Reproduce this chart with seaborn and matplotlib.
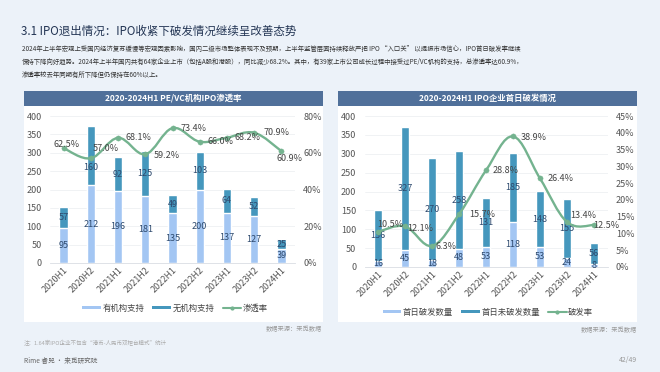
import numpy as np
import pandas as pd
import matplotlib
matplotlib.use('Agg')
import matplotlib.pyplot as plt
import seaborn as sns
from matplotlib.patches import Rectangle, PathPatch, Patch
from matplotlib.path import Path
from matplotlib.lines import Line2D

# ---------------- data ----------------
periods = ['2020H1', '2020H2', '2021H1', '2021H2', '2022H1',
           '2022H2', '2023H1', '2023H2', '2024H1']
backed = [95, 212, 196, 181, 135, 200, 137, 127, 39]          # 有机构支持
unbacked = [57, 160, 92, 125, 49, 103, 64, 52, 25]            # 无机构支持
penetration = [62.5, 57.0, 68.1, 59.2, 73.4, 66.0, 68.2, 70.9, 60.9]  # 渗透率 %
broken = [16, 45, 18, 48, 53, 118, 53, 24, 8]                  # 首日破发数量
unbroken = [136, 327, 270, 258, 131, 185, 148, 155, 56]        # 首日未破发数量
break_rate = [10.5, 12.1, 6.3, 15.7, 28.8, 38.9, 26.4, 13.4, 12.5]  # 破发率 %

left_yticks = list(range(0, 401, 50))
left_rticks = [0, 20, 40, 60, 80]
right_rticks = list(range(0, 46, 5))

# ---------------- style ----------------
LIGHT = '#a3c6f3'
DARK = '#4597bd'
GREEN = '#74b38f'
BAR_TXT = '#2e4a6e'
TICK = '#555555'
BAR_HDR = '#50709a'

sns.set_theme(style='white')
plt.rcParams['font.family'] = ['Noto Sans CJK SC', 'DejaVu Sans']

W, H = 660, 372
fig = plt.figure(figsize=(6.6, 3.72), dpi=100)
fig.patch.set_facecolor('#ecf2f9')


def fx(px):
    return px / W


def fy(py):
    return 1 - py / H


def axes_px(l, t, r, b):
    return fig.add_axes([l / W, 1 - b / H, (r - l) / W, (b - t) / H])


def smooth_path(xs, ys, t=0.18):
    pts = np.column_stack([xs, ys]).astype(float)
    n = len(pts)
    verts = [pts[0]]
    codes = [Path.MOVETO]
    for i in range(n - 1):
        p0 = pts[i - 1] if i > 0 else pts[i]
        p1 = pts[i]
        p2 = pts[i + 1]
        p3 = pts[i + 2] if i + 2 < n else pts[i + 1]
        verts += [p1 + (p2 - p0) * t, p2 - (p3 - p1) * t, p2]
        codes += [Path.CURVE4] * 3
    return Path(verts, codes)


# background panels
for (l, r) in [(24, 323), (338, 637)]:
    fig.patches.append(Rectangle((fx(l), fy(322)), (r - l) / W, (322 - 91) / H,
                                 transform=fig.transFigure, facecolor='white',
                                 edgecolor='none', zorder=-3))
    fig.patches.append(Rectangle((fx(l), fy(106)), (r - l) / W, 15 / H,
                                 transform=fig.transFigure, facecolor=BAR_HDR,
                                 edgecolor='none', zorder=-2))


def draw(ax, low, high, rate, rticks, rmax, rfmt, offsets, high_shift):
    x = np.arange(len(periods))
    total = [a + b for a, b in zip(low, high)]
    df = pd.DataFrame({'period': periods, 'low': low, 'high': high, 'total': total})
    sns.barplot(data=df, x='period', y='total', color=DARK, saturation=1,
                width=0.31, ax=ax, order=periods)
    sns.barplot(data=df, x='period', y='low', color=LIGHT, saturation=1,
                width=0.31, ax=ax, order=periods)
    ax.set_facecolor('none')
    ax.set_ylim(0, 400)
    ax.set_xlim(-0.5, len(periods) - 0.5)
    ax.set_yticks(left_yticks)
    ax.set_xlabel('')
    ax.set_ylabel('')
    ax.yaxis.grid(True, color='#eef0f3', lw=0.6)
    ax.set_axisbelow(True)
    for s in ['top', 'right', 'left']:
        ax.spines[s].set_visible(False)
    ax.spines['bottom'].set_color('#d9dde3')
    ax.spines['bottom'].set_linewidth(0.6)
    ax.tick_params(axis='y', labelsize=6.5, colors=TICK, length=0, pad=6)
    ax.tick_params(axis='x', labelsize=6.5, colors=TICK, length=0, pad=2)
    plt.setp(ax.get_xticklabels(), rotation=45, ha='right', rotation_mode='anchor')
    for i in range(len(periods)):
        ax.text(i, low[i] / 2, str(low[i]), ha='center', va='center',
                fontsize=6.5, color=BAR_TXT, zorder=5)
        ax.annotate(str(high[i]), (i, low[i] + high[i] / 2), xytext=(0, high_shift[i]),
                    textcoords='offset pixels', ha='center', va='center',
                    fontsize=6.5, color=BAR_TXT, zorder=5)

    ax2 = ax.twinx()
    ax2.set_ylim(0, rmax)
    ax2.set_yticks(rticks)
    ax2.set_yticklabels([rfmt.format(v) for v in rticks])
    ax2.tick_params(axis='y', labelsize=6.5, colors=TICK, length=0, pad=6)
    for s in ax2.spines.values():
        s.set_visible(False)
    ax2.grid(False)
    ax2.add_patch(PathPatch(smooth_path(x, rate), facecolor='none',
                            edgecolor=GREEN, lw=1.7, zorder=4))
    sns.scatterplot(x=x, y=rate, ax=ax2, color=GREEN, s=14,
                    edgecolor=GREEN, legend=False, zorder=5)
    ax2.set_xlim(-0.5, len(periods) - 0.5)
    for i, v in enumerate(rate):
        dx, dy, ha = offsets[i]
        ax2.annotate(f'{v:.1f}%', (i, v), xytext=(dx, dy), textcoords='offset pixels',
                     ha=ha, va='center', fontsize=6.5, color='#444444', zorder=6)
    return ax2


# left chart
axL = axes_px(50, 116, 295, 263)
left_offsets = [(3, 4, 'center'), (2, 10, 'left'), (7, 0, 'left'), (8, -1, 'left'),
                (8, 0, 'left'), (8, 0, 'left'), (8, 0, 'left'), (9, 0, 'left'),
                (-5, -7, 'left')]
left_shift = [0, -12, 0, 0, 0, 0, 0, 0, 0]
draw(axL, backed, unbacked, penetration, left_rticks, 80, '{}%', left_offsets, left_shift)

# right chart
axR = axes_px(364.5, 116, 607.5, 267)
right_offsets = [(-1, 7, 'left'), (2, -2, 'left'), (3, -1, 'left'), (10, 0, 'left'),
                 (7, 0, 'left'), (8, -1, 'left'), (8, 0, 'left'), (3, 7, 'left'),
                 (-1, 0, 'left')]
right_shift = [0] * 9
draw(axR, broken, unbroken, break_rate, right_rticks, 45, '{}%', right_offsets, right_shift)

# panel titles
fig.text(fx(173.5), fy(98.5), '2020-2024H1 PE/VC机构IPO渗透率', ha='center', va='center',
         fontsize=6, color='white', fontweight='bold')
fig.text(fx(487.5), fy(98.5), '2020-2024H1 IPO企业首日破发情况', ha='center', va='center',
         fontsize=6, color='white', fontweight='bold')

# legends
def legend_handles(l1, l2, l3):
    return [Patch(facecolor=LIGHT, edgecolor='none', label=l1),
            Patch(facecolor=DARK, edgecolor='none', label=l2),
            Line2D([], [], color=GREEN, lw=1.5, marker='o', ms=2, label=l3)]


for cx, cy, labs in [(175, 308, ('有机构支持', '无机构支持', '渗透率')),
                     (488, 312, ('首日破发数量', '首日未破发数量', '破发率'))]:
    fig.legend(handles=legend_handles(*labs), loc='center',
               bbox_to_anchor=(fx(cx), fy(cy)), ncol=3, frameon=False,
               fontsize=6, handlelength=2.2, handleheight=0.35,
               handletextpad=0.2, columnspacing=1.0, labelcolor='#444444')

# header
fig.text(fx(21), fy(31), '3.1 IPO退出情况：IPO收紧下破发情况继续呈改善态势',
         ha='left', va='center', fontsize=8.3, color='#233554')
para = ['2024年上半年宏观上受国内经济复苏缓慢等宏观因素影响，国内二级市场整体表现不及预期，上半年监管层面持续释放严把 IPO “入口关” 以提振市场信心，IPO首日破发率继续',
        '保持下降向好趋势。2024年上半年国内共有64家企业上市（包括A股和港股），同比减少68.2%。其中，有39家上市公司成长过程中接受过PE/VC机构的支持，总渗透率达60.9%，',
        '渗透率较去年同期有所下降但仍保持在60%以上。']
for k, line in enumerate(para):
    fig.text(fx(22), fy(48.5 + 13 * k), line, ha='left', va='center',
             fontsize=4.6, color='#333333')

# footers
fig.text(fx(322), fy(329), '数据来源：来觅数据', ha='right', va='center', fontsize=4.5, color='#999999')
fig.text(fx(637), fy(330), '数据来源：来觅数据', ha='right', va='center', fontsize=4.5, color='#999999')
fig.text(fx(24), fy(343), '注：1.64家IPO企业不包含“港币-人民币双柜台模式”统计', ha='left', va='center',
         fontsize=4, color='#aaaaaa')
fig.text(fx(24), fy(361), 'Rime 睿兕 · 来觅研究院', ha='left', va='center', fontsize=4.8, color='#666666')
fig.text(fx(637), fy(360), '42/49', ha='right', va='center', fontsize=5, color='#999999')

fig.savefig('out.png', dpi=100, facecolor=fig.get_facecolor())
